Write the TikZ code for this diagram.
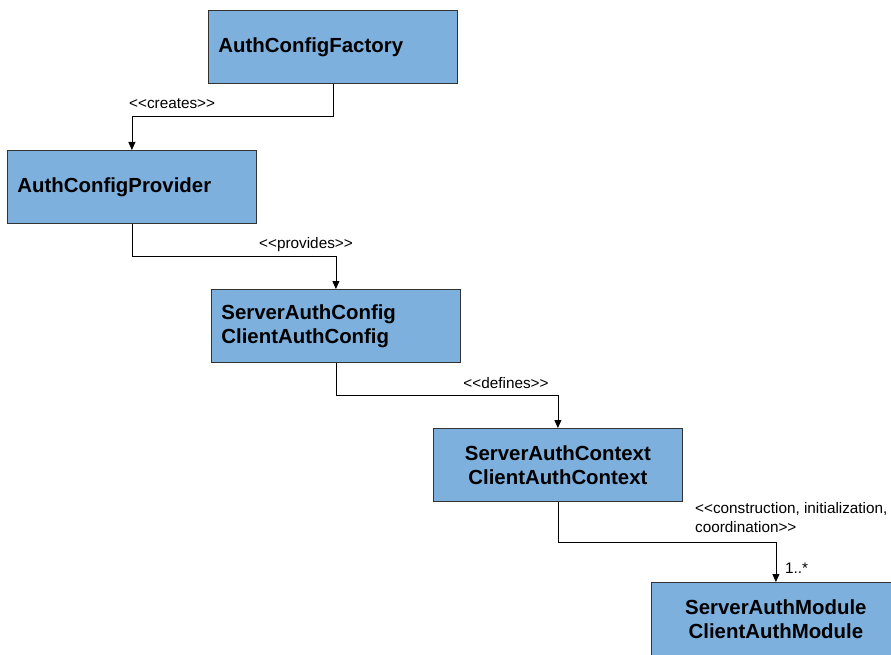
\documentclass[tikz,border=0pt]{standalone}
\usepackage{fontspec}
\setmainfont{Liberation Sans}
\usetikzlibrary{arrows.meta,calc}
\definecolor{boxfill}{RGB}{126,176,222}
\definecolor{boxline}{RGB}{50,50,50}
\newcommand\dlt{<\kern0pt<}
\newcommand\dgt{>\kern0pt>}
\newcommand\stereo[1]{\dlt#1\dgt}
\tikzset{
  classbox/.style={draw=boxline, fill=boxfill, line width=0.8pt,
    minimum width=249pt, minimum height=73pt, anchor=north west,
    inner xsep=10pt, font=\fontsize{20.4}{24}\selectfont\bfseries},
  leftbox/.style={classbox, text width=229pt, align=left},
  midbox/.style={classbox, text width=229pt, align=center},
  conn/.style={draw=black, line width=0.8pt, -{Triangle[width=7pt,length=8pt]}},
  lbl/.style={inner sep=0pt, font=\fontsize{15.3}{19}\selectfont},
}
\begin{document}
\begin{tikzpicture}[x=1pt, y=-1pt]
  \useasboundingbox (0,0) rectangle (891,655);
  \clip (0,0) rectangle (891,655);

  % classes
  \node[leftbox] (factory)  at (208,10)  {AuthConfigFactory};
  \node[leftbox] (provider) at (7,150)   {AuthConfigProvider};
  \node[leftbox] (config)   at (211,289) {ServerAuthConfig\\ClientAuthConfig};
  \node[midbox]  (context)  at (433,428) {ServerAuthContext\\ClientAuthContext};
  \node[midbox]  (module)   at (651,582) {ServerAuthModule\\ClientAuthModule};

  % orthogonal associations, bottom centre to top centre
  \draw[conn] (factory.south) |- ($(factory.south)!.5!(provider.north)$) -| (provider.north);
  \draw[conn] (provider.south) |- ($(provider.south)!.5!(config.north)$) -| (config.north);
  \draw[conn] (config.south) |- ($(config.south)!.5!(context.north)$) -| (context.north);
  \draw[conn] (context.south) |- ($(context.south)!.5!(module.north)$) -| (module.north);

  % stereotypes and multiplicity
  \node[lbl, anchor=base west] (lcreates)  at (129,109) {\stereo{creates}};
  \node[lbl, anchor=base]      (lprovides) at (306,248) {\stereo{provides}};
  \node[lbl, anchor=base]      (ldefines)  at (506,388) {\stereo{defines}};
  \node[lbl, anchor=base west, align=left] (lcons) at (695,532)
    {\dlt construction, initialization,\\coordination\dgt};
  \node[lbl, anchor=base west] (lmult) at (785,573) {1..*};
\end{tikzpicture}
\end{document}
